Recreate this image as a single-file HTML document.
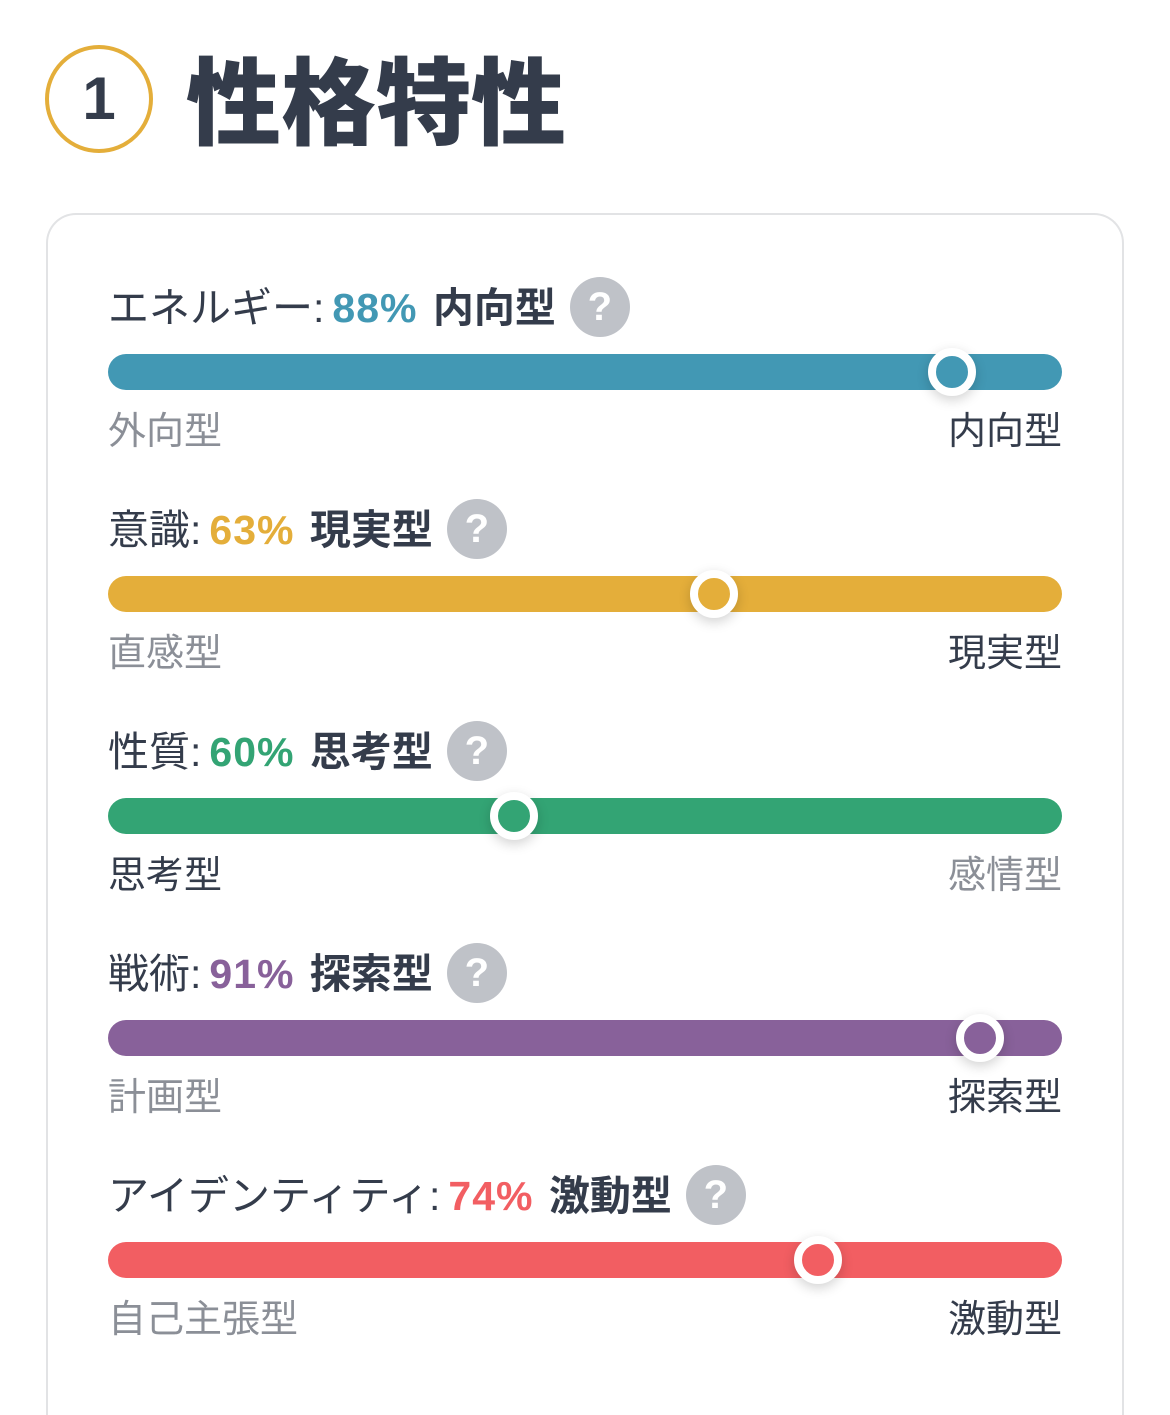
<!DOCTYPE html>
<html style="height:1415px;overflow:hidden"><head><meta charset="utf-8"><style>
body{margin:0;width:1170px;height:1415px;background:#fff;position:relative;overflow:hidden;font-family:"Liberation Sans","Noto Sans CJK JP",sans-serif;color:#343c4b}
.abs{position:absolute}
.card{left:46px;top:213px;width:1074px;height:1210px;border:2px solid #e2e3e5;border-bottom:none;border-radius:30px 30px 0 0}
.ttl{font-size:41px;white-space:nowrap;line-height:48px}
.ttl b.p{letter-spacing:1px;margin:0 4px 0 8px}
.q{display:inline-block;width:60px;height:60px;border-radius:50%;background:#bfc2c8;color:#fff;font-weight:bold;font-size:40px;text-align:center;line-height:60px;vertical-align:middle;margin-left:14px;margin-top:-8px}
.bar{height:36px;border-radius:18px;left:108px;width:954px}
.knob{width:32px;height:32px;border-radius:50%;border:8px solid #fff;box-shadow:0 4px 12px rgba(0,0,0,.18)}
.lab{font-size:38px;line-height:44px;white-space:nowrap}
</style></head><body>
<div class="abs" style="left:45px;top:45px;width:100px;height:100px;border:4px solid #e4ae3a;border-radius:50%;text-align:center;line-height:100px;font-size:60px;font-weight:bold">1</div>
<div class="abs" style="left:186px;top:50px;font-size:95px;font-weight:900;line-height:110px">性格特性</div>
<div class="abs card"></div>
<div id="rows"></div>
<script>
const traitNames=["エネルギー","意識","性質","戦術","アイデンティティ"];
const values=[88,63,60,91,74];
const resultTypes=["内向型","現実型","思考型","探索型","激動型"];
const leftLabels=["外向型","直感型","思考型","計画型","自己主張型"];
const rightLabels=["内向型","現実型","感情型","探索型","激動型"];
const sides=["right","right","left","right","right"];
const colors=["#4298b4","#e4ae3a","#33a474","#88619a","#f25e62"];
const root=document.getElementById('rows');
const x=p=>114+p*9.52;
for(let i=0;i<values.length;i++){
  const top=284+i*222;
  const t=document.createElement('div');
  t.className='abs ttl';t.style.left='108px';t.style.top=top+'px';
  
  
  t.innerHTML=traitNames[i]+':<b class="p" style="color:'+colors[i]+'">'+values[i]+'%</b> <b>'+resultTypes[i]+'</b><span class="q">?</span>';
  root.appendChild(t);
  const b=document.createElement('div');
  b.className='abs bar';b.style.top=(top+70)+'px';b.style.background=colors[i];
  
  
  root.appendChild(b);
  const pos=sides[i]==='right'?values[i]:100-values[i];
  const k=document.createElement('div');
  k.className='abs knob';k.style.left=(x(pos)-24+(sides[i]==='left'?19:0))+'px';k.style.top=(top+64)+'px';k.style.background=colors[i];
  
  
  root.appendChild(k);
  const l=document.createElement('div');
  l.className='abs lab';l.style.left='108px';l.style.top=(top+126)+'px';
  l.style.color=sides[i]==='left'?'#343c4b':'#8b8f97';l.textContent=leftLabels[i];
  
  
  root.appendChild(l);
  const r=document.createElement('div');
  r.className='abs lab';r.style.right='108px';r.style.top=(top+126)+'px';
  r.style.color=sides[i]==='right'?'#343c4b':'#8b8f97';r.textContent=rightLabels[i];
  
  
  root.appendChild(r);
}
</script>
</body></html>
